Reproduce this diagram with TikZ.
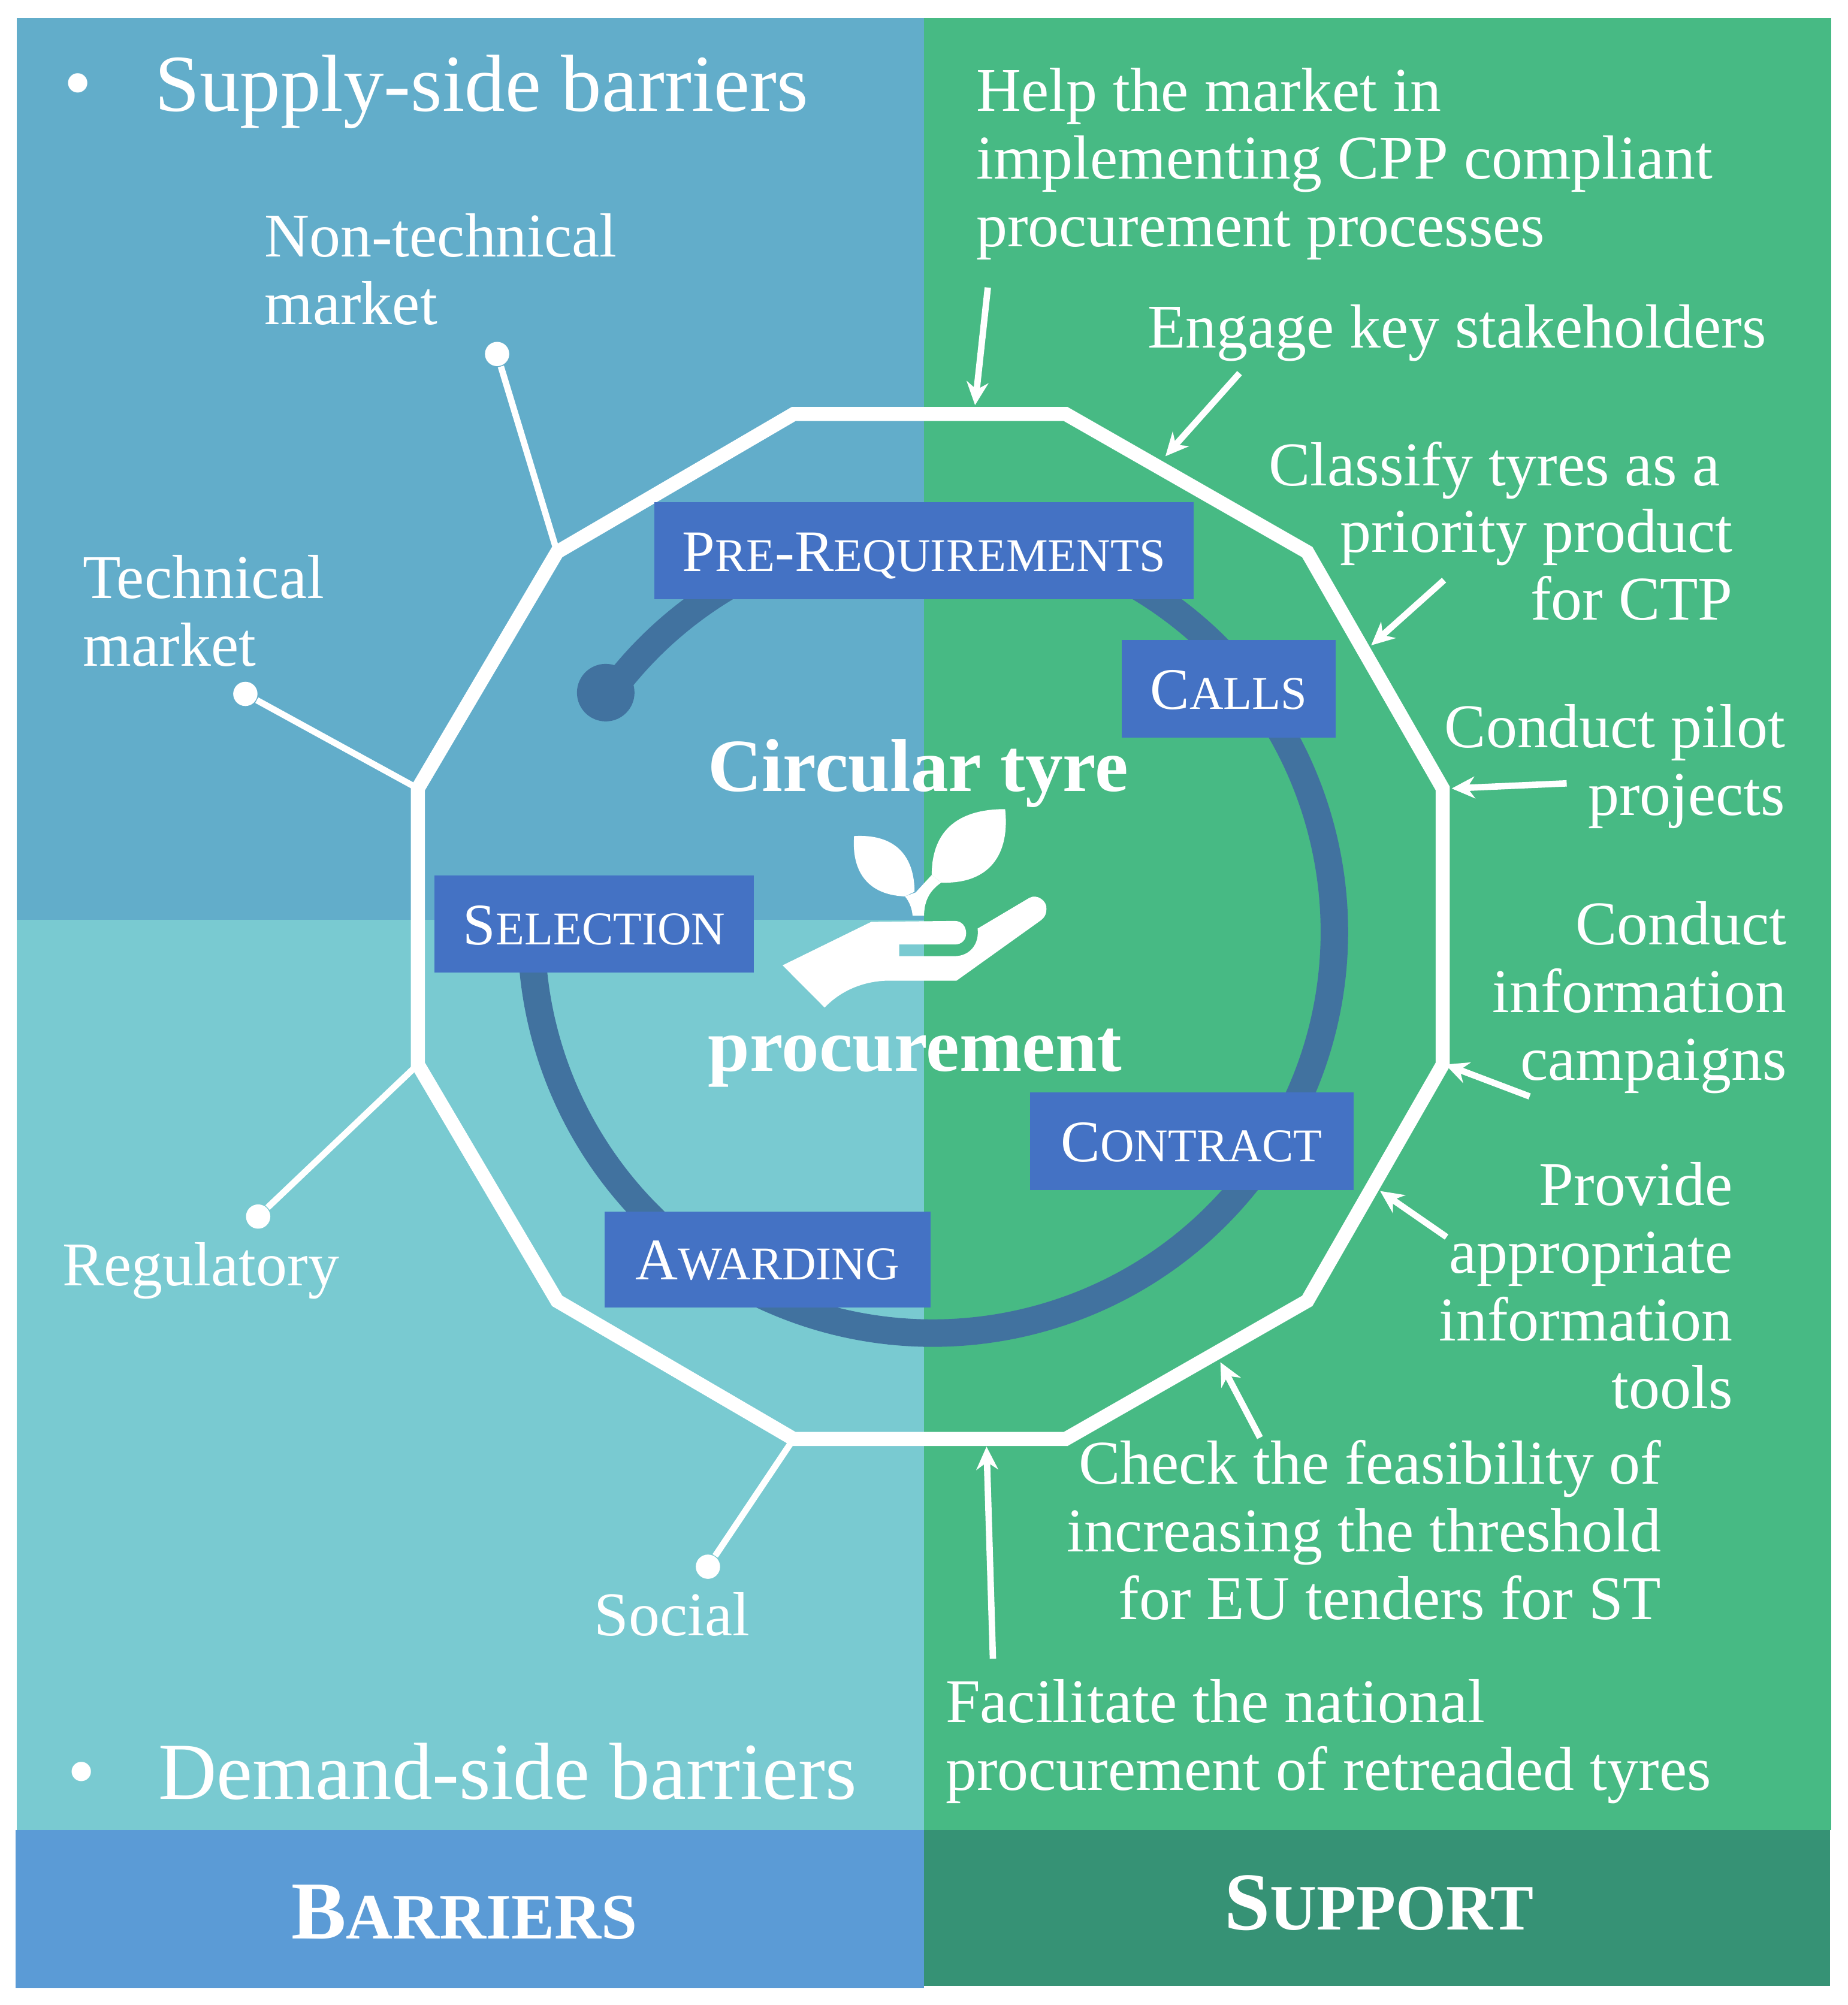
\documentclass[tikz,border=0pt]{standalone}
\usepackage{fontspec}
\usepackage{tikz}
\usetikzlibrary{arrows.meta}
\setmainfont{Liberation Serif}
\definecolor{suptop}{HTML}{62ADCA}
\definecolor{dembot}{HTML}{79CAD1}
\definecolor{suppgreen}{HTML}{47BA84}
\definecolor{barblue}{HTML}{5B9BD6}
\definecolor{supdark}{HTML}{369275}
\definecolor{boxblue}{HTML}{4472C4}
\definecolor{ringblue}{HTML}{41729F}
\newcommand{\bodyfont}{\fontsize{13.85}{15.05}\selectfont}
\newcommand{\headfont}{\fontsize{18}{20}\selectfont}
\newcommand{\midfont}{\bfseries\fontsize{16.7}{20}\selectfont}
\newcommand{\smc}[2]{{\fontsize{13.1}{16}\selectfont #1}{\fontsize{10.45}{14}\selectfont #2}}
\newcommand{\bigc}[2]{{\bfseries\fontsize{18.3}{22}\selectfont #1}{\bfseries\fontsize{14.4}{18}\selectfont #2}}
\tikzset{
  lbl/.style={text=white,inner sep=0pt,outer sep=0pt,font=\bodyfont},
  lleft/.style={lbl,anchor=base west,align=left},
  lright/.style={lbl,anchor=base east,align=right},
  stagebox/.style={fill=boxblue,draw=none,inner sep=0pt,outer sep=0pt,text=white,text height=0.32cm,text depth=0pt},
  wheel/.style={draw=ringblue,line width=0.215cm},
  rim/.style={draw=white,line width=0.11cm,line join=miter},
  spoke/.style={draw=white,line width=0.05cm},
  tipdot/.style={circle,fill=white,inner sep=0pt,minimum size=0.19cm},
  helparrow/.style={draw=white,line width=0.05cm,-{Stealth[length=0.18cm,width=0.17cm]}},
}
\begin{document}
\begin{tikzpicture}[x=0.01cm,y=-0.01cm]
\useasboundingbox (0,0) rectangle (1446,1569);
\fill[white] (0,0) rectangle (1446,1569);
% panels
\fill[suptop] (13,14) rectangle (723,720);
\fill[dembot] (13,720) rectangle (723,1432);
\fill[suppgreen] (723,14) rectangle (1433,1432);
\fill[barblue] (12,1432) rectangle (723,1556);
\fill[supdark] (723,1432) rectangle (1432,1554);
% cycle ring
\coordinate (ringc) at (730,729);
\draw[wheel] (ringc) ++(144:3.14cm) coordinate (ringstart) arc[start angle=144,end angle=-180,radius=3.14cm];
\node[circle,fill=ringblue,inner sep=0pt,minimum size=0.45cm] (ringdot) at (474,542) {};
% rim
\coordinate (p1) at (621,324);
\coordinate (p2) at (834,324);
\coordinate (p3) at (1023,432);
\coordinate (p4) at (1129,617);
\coordinate (p5) at (1129,833);
\coordinate (p6) at (1023,1018);
\coordinate (p7) at (834,1126);
\coordinate (p8) at (621,1126);
\coordinate (p9) at (436,1018);
\coordinate (p10) at (327,833);
\coordinate (p11) at (327,617);
\coordinate (p12) at (436,432);
\draw[rim] (p1)--(p2)--(p3)--(p4)--(p5)--(p6)--(p7)--(p8)--(p9)--(p10)--(p11)--(p12)--cycle;
% stage boxes
\node[stagebox,minimum width=4.22cm,minimum height=0.76cm] (prereq) at (723,431) {\smc{P}{RE}\smc{-R}{EQUIREMENTS}};
\node[stagebox,minimum width=1.67cm,minimum height=0.76cm] (calls) at (961.5,539) {\smc{C}{ALLS}};
\node[stagebox,minimum width=2.50cm,minimum height=0.76cm] (selection) at (465,723) {\smc{S}{ELECTION}};
\node[stagebox,minimum width=2.53cm,minimum height=0.76cm] (contract) at (932.5,893) {\smc{C}{ONTRACT}};
\node[stagebox,minimum width=2.55cm,minimum height=0.75cm] (awarding) at (600.5,985.5) {\smc{A}{WARDING}};
% hand and plant
\begin{scope}[shift={(468.8,515.7)},x=0.00299cm,y=-0.002392cm]
\fill[white] (480,1000) -- (712,858) -- (930,855)
  .. controls (950,855) and (960,875) .. (960,895)
  .. controls (960,915) and (950,932) .. (930,932)
  -- (785,932) -- (785,970) -- (930,970)
  .. controls (970,970) and (995,930) .. (990,880)
  -- (1125,780)
  .. controls (1145,765) and (1172,790) .. (1170,815)
  .. controls (1170,835) and (1165,845) .. (1150,858)
  -- (935,1050) -- (760,1050)
  .. controls (690,1050) and (630,1085) .. (590,1138) -- cycle;
\fill[white] (667,578) .. controls (780,570) and (825,650) .. (825,760)
  -- (800,775) .. controls (700,770) and (660,690) .. (667,578) -- cycle;
\fill[white] (1062,490) .. controls (1075,640) and (1020,735) .. (895,730)
  -- (870,705) .. controls (870,570) and (930,490) .. (1062,490) -- cycle;
\fill[white] (800,775) -- (828,762) -- (870,705) -- (895,730)
  .. controls (865,755) and (850,790) .. (850,838) -- (820,838)
  .. controls (818,810) and (810,790) .. (800,775) -- cycle;
\end{scope}
\node[lbl,anchor=base west,font=\midfont] (title1) at (554,619) {Circular tyre};
\node[lbl,anchor=base west,font=\midfont] (title2) at (554,838) {procurement};
% barrier labels and spokes
\node[lbl,anchor=center,font=\headfont] (bul1) at (61,72) {•};
\node[lleft,font=\headfont] (supply) at (121,87) {Supply-side barriers};
\node[lbl,anchor=center,font=\headfont] (bul2) at (64,1393) {•};
\node[lleft,font=\headfont] (demand) at (124,1408) {Demand-side barriers};
\node[lleft] (nontech) at (207,254) {Non-technical\\market};
\node[lleft] (tech) at (65,521) {Technical\\market};
\node[lleft] (regul) at (49,1006) {Regulatory};
\node[lleft] (social) at (465,1280) {Social};
\node[tipdot] (dn) at (389,277) {};
\node[tipdot] (dt) at (192,543) {};
\node[tipdot] (dr) at (202,952) {};
\node[tipdot] (ds) at (554,1226) {};
\draw[spoke] (dn) -- (p12);
\draw[spoke] (dt) -- (p11);
\draw[spoke] (dr) -- (p10);
\draw[spoke] (ds) -- (p8);
% support labels
\node[lleft] (help) at (764,193) {Help the market in\\implementing CPP compliant\\procurement processes};
\node[lleft] (engage) at (898,272) {Engage key stakeholders};
\node[lleft] (classifya) at (993,380) {Classify tyres as a};
\node[lright] (classify) at (1356,485) {priority product\\for CTP};
\node[lright] (pilot) at (1397,638) {Conduct pilot\\projects};
\node[lright] (campaign) at (1398,845) {Conduct\\information\\campaigns};
\node[lright] (tools) at (1356,1102) {Provide\\appropriate\\information\\tools};
\node[lright] (check) at (1300,1267) {Check the feasibility of\\increasing the threshold\\for EU tenders for ST};
\node[lleft] (facil) at (740,1401) {Facilitate the national\\procurement of retreaded tyres};
% arrows
\coordinate (a1s) at (773,225); \coordinate (a1e) at (763,317);
\coordinate (a2s) at (970,292); \coordinate (a2e) at (912,357);
\coordinate (a3s) at (1130,454); \coordinate (a3e) at (1073,505);
\coordinate (a4s) at (1226,613); \coordinate (a4e) at (1136,617);
\coordinate (a5s) at (1197,858); \coordinate (a5e) at (1131,833);
\coordinate (a6s) at (1132,968); \coordinate (a6e) at (1080,932);
\coordinate (a7s) at (986,1125); \coordinate (a7e) at (955,1066);
\coordinate (a8s) at (777,1298); \coordinate (a8e) at (772,1132);
\foreach \k in {1,...,8} {\draw[helparrow] (a\k s) -- (a\k e);}
% footer
\node[lbl,anchor=base west] (barriers) at (228,1517) {\bigc{B}{ARRIERS}};
\node[lbl,anchor=base west] (support) at (958,1510) {\bigc{S}{UPPORT}};
\end{tikzpicture}
\end{document}
